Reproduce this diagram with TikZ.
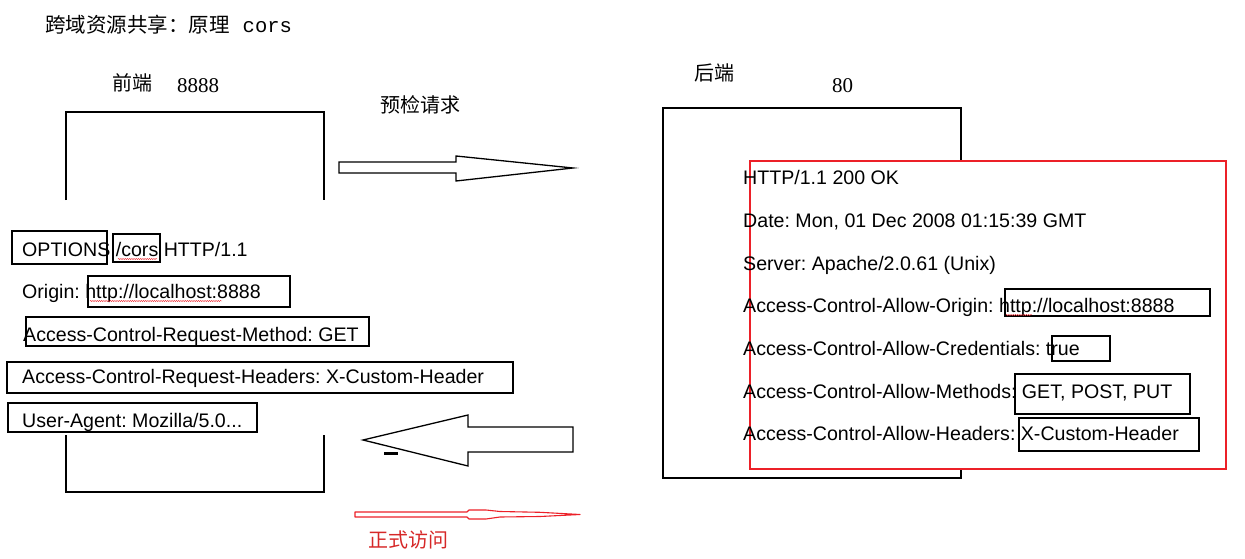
\documentclass[tikz,border=0pt]{standalone}
\usepackage{fontspec}
\setmainfont{Liberation Sans}
\newfontfamily\cjk{Noto Sans CJK SC}
\newfontfamily\numserif{Liberation Serif}
\newfontfamily\monof{Liberation Mono}
\usetikzlibrary{decorations.pathmorphing}
\definecolor{myred}{RGB}{236,32,40}
\definecolor{labred}{RGB}{214,40,40}
\frenchspacing
\tikzset{
  frameline/.style={line width=1.6pt, black},
  wbox/.style={draw, line width=1.5pt, inner sep=0pt},
  txt/.style={anchor=base west, inner sep=0pt, font=\fontsize{19.6}{22}\selectfont},
  cjklab/.style={anchor=west, inner sep=0pt, font=\cjk\fontsize{20}{24}\selectfont},
  numlab/.style={anchor=base west, inner sep=0pt, font=\numserif\fontsize{21}{24}\selectfont},
  hollowarrow/.style={draw, line width=1.3pt, fill=white, line join=miter},
  squig/.style={myred, line width=0.4pt, decorate, decoration={snake, amplitude=0.6pt, segment length=2.2pt}}
}
\newcommand{\mkbox}[5]{\node[wbox, minimum width={#4-#2}, minimum height={#5-#3}] (#1) at ({(#2+#4)/2},{(#3+#5)/2}) {};}
\begin{document}
\begin{tikzpicture}[x=1pt,y=-1pt]
\useasboundingbox (0,0) rectangle (1245,559);
% title
\node[anchor=base west, inner sep=0pt] (title) at (45,33) {{\cjk\fontsize{20.5}{24}\selectfont 跨域资源共享：原理}\hspace{13pt}{\monof\fontsize{20.5}{24}\selectfont cors}};
% front end labels
\node[cjklab] (front) at (112,82.5) {前端};
\node[numlab] (fport) at (177,93) {8888};
% back end labels
\node[cjklab] (back) at (694,72.5) {后端};
\node[numlab] (bport) at (832,93) {80};
% left frame
\draw[frameline] (66,200) -- (66,112) -- (324,112) -- (324,200);
\draw[frameline] (66,435) -- (66,492) -- (324,492) -- (324,435);
% right frame
\draw[frameline] (961,161) -- (961,108) -- (663,108) -- (663,478) -- (961,478) -- (961,460);
% red response box
\node[draw=myred, line width=1.6pt, fill=white, inner sep=0pt, minimum width=476pt, minimum height=308pt] (resp) at (988,315) {};
% preflight arrow
\node[cjklab] (pre) at (380,105) {预检请求};
\draw[hollowarrow] (339,162) -- (456,162) -- (456,156) -- (573,168) -- (456,181) -- (456,173) -- (339,173) -- cycle;
% return arrow
\draw[hollowarrow] (573,427) -- (468,427) -- (468,415) -- (363,440) -- (468,466) -- (468,452) -- (573,452) -- cycle;
\fill (384,452) rectangle (398,455);
% red formal access arrow
\draw[myred, line width=1.1pt, line join=round] (355,512) -- (467,512) -- (469,510) -- (486,510) -- (500,511.5) -- (540,512.3) -- (580,514.5) -- (540,516.5) -- (500,517) -- (486,519) -- (469,519) -- (467,517) -- (355,517) -- cycle;
\node[cjklab, text=labred] (formal) at (368,540) {正式访问};
% request header text
\node[txt] (r1) at (22,256) {OPTIONS /cors HTTP/1.1};
\node[txt] (r2) at (22,298) {Origin: http://localhost:8888};
\node[txt] (r3) at (23,341) {Access-Control-Request-Method: GET};
\node[txt] (r4) at (22,383) {Access-Control-Request-Headers: X-Custom-Header};
\node[txt] (r5) at (22,427) {User-Agent: Mozilla/5.0...};
\mkbox{bopt}{12}{231}{107}{264}
\mkbox{bcors}{113}{234}{160}{262}
\mkbox{borig}{88}{276}{290}{307}
\mkbox{bmeth}{26}{317}{369}{346}
\mkbox{bhead}{7}{362}{513}{393}
\mkbox{bua}{8}{403}{257}{432}
\draw[squig] (118,259) -- (157,259);
\draw[squig] (90,301) -- (222,301);
% response header text
\node[txt] (s1) at (743,185) {HTTP/1.1 200 OK};
\node[txt] (s2) at (743,227.6) {Date: Mon, 01 Dec 2008 01:15:39 GMT};
\node[txt] (s3) at (743,270.2) {Server: Apache/2.0.61 (Unix)};
\node[txt] (s4) at (743,312.8) {Access-Control-Allow-Origin: http://localhost:8888};
\node[txt] (s5) at (743,355.4) {Access-Control-Allow-Credentials: true};
\node[txt] (s6) at (743,398) {Access-Control-Allow-Methods: GET, POST, PUT};
\node[txt] (s7) at (743,440.6) {Access-Control-Allow-Headers: X-Custom-Header};
\mkbox{aorig}{1005}{289}{1210}{316}
\mkbox{atrue}{1052}{336}{1110}{361}
\mkbox{ameth}{1015}{374}{1190}{414}
\mkbox{ahead}{1019}{418}{1199}{451}
\draw[squig] (1006,315) -- (1032,315);
\end{tikzpicture}
\end{document}
